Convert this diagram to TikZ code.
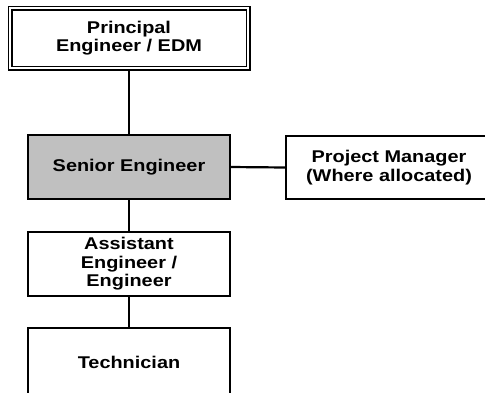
\documentclass[tikz,border=0pt]{standalone}
\usepackage{fontspec}
\setmainfont{Liberation Sans}
\newfontfamily\labfont{Liberation Sans}[FakeStretch=1.17]
\usetikzlibrary{backgrounds}
\definecolor{seniorgray}{RGB}{192,192,192}
\begin{document}
\begin{tikzpicture}[x=1pt,y=-1pt,
  box/.style={draw=black,line width=1.4pt,fill=white,inner sep=0pt,outer sep=0pt,
    align=center,font=\labfont\fontsize{17}{18.5}\selectfont\bfseries},
  link/.style={draw=black,line width=2.2pt}]
\useasboundingbox (0,0) rectangle (485,392);
\node[box,double=white,double distance=2.6pt,line width=1.2pt,minimum width=238pt,minimum height=60pt] (pe) at (129,38) {Principal\\Engineer / EDM};
\node[box,fill=seniorgray,minimum width=202pt,minimum height=64pt] (se) at (129,167) {Senior Engineer};
\node[box,minimum width=206pt,minimum height=63pt] (pm) at (389,167.5) {Project Manager\\(Where allocated)};
\node[box,minimum width=202pt,minimum height=64pt] (ae) at (129,264) {Assistant\\Engineer /\\Engineer};
\node[box,minimum width=202pt,minimum height=68pt] (te) at (129,362) {Technician};
\begin{scope}[on background layer]
\draw[link] (pe.south) -- (se.north);
\draw[link] (se.south) -- (ae.north);
\draw[link] (ae.south) -- (te.north);
\draw[link] (se.east) -- (pm.west);
\end{scope}
\end{tikzpicture}
\end{document}
